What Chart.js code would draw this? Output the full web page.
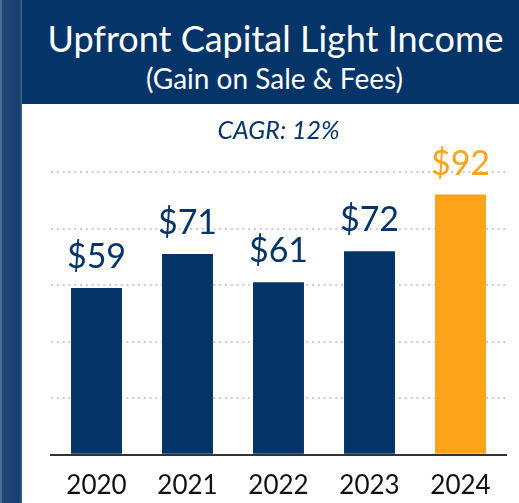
<!DOCTYPE html>
<html>
<head>
<meta charset="utf-8">
<script src="https://cdn.jsdelivr.net/npm/chart.js@4"></script>
<style>
  html, body { margin: 0; padding: 0; background: #fff; }
  #wrap { position: relative; width: 519px; height: 503px; overflow: hidden; font-family: Lato, "DejaVu Sans", sans-serif; }
  #strip {
    position: absolute; left: 0; top: 0; width: 22px; height: 503px;
    background: linear-gradient(to right, #4a6e98 0, #4a6e98 2px, #1d4576 2px, #1a3f70 20px, #3b5f8c 21px, #3b5f8c 22px);
  }
  #header {
    position: absolute; left: 22px; top: 0; width: 497px; height: 104px;
    background: #053468; color: #fff; text-align: center;
  }
  #header .t1 { position: absolute; left: 10px; right: 0; top: 16px; font-size: 36px; line-height: 44px; }
  #header .t2 { position: absolute; left: 8px; right: 0; top: 61px; font-size: 28px; line-height: 34px; }
  canvas { position: absolute; left: 0; top: 0; }
</style>
</head>
<body>
<div id="wrap">
  <div id="strip"></div>
  <div id="header">
    <div class="t1">Upfront Capital Light Income</div>
    <div class="t2">(Gain on Sale &amp; Fees)</div>
  </div>
  <canvas id="incomeChart" width="519" height="503"></canvas>
</div>
<script>
const years = ['2020', '2021', '2022', '2023', '2024'];
const income = [59, 71, 61, 72, 92];
const valueLabels = ['$59', '$71', '$61', '$72', '$92'];
const barColors = ['#053468', '#053468', '#053468', '#053468', '#fba31a'];
const cagrText = 'CAGR: 12%';

// puts the $ value above each bar
const valueLabelPlugin = {
  id: 'valueLabels',
  afterDatasetsDraw(chart) {
    const ctx = chart.ctx;
    const meta = chart.getDatasetMeta(0);
    ctx.save();
    ctx.font = '34px Lato, "DejaVu Sans", sans-serif';
    ctx.textAlign = 'center';
    ctx.textBaseline = 'alphabetic';
    meta.data.forEach((bar, i) => {
      ctx.fillStyle = barColors[i];
      ctx.fillText(valueLabels[i], bar.x, bar.y - 20);
    });
    ctx.restore();
  }
};

const ctx = document.getElementById('incomeChart').getContext('2d');
new Chart(ctx, {
  type: 'bar',
  data: {
    labels: years,
    datasets: [{
      data: income,
      backgroundColor: barColors,
      borderWidth: 0,
      categoryPercentage: 1,
      barPercentage: 0.56,
    }],
  },
  options: {
    responsive: false,
    animation: false,
    layout: {
      padding: { left: 51, right: 13, top: 116, bottom: -13 },
    },
    plugins: {
      legend: { display: false },
      tooltip: { enabled: false },
      title: {
        display: true,
        text: cagrText,
        color: '#053468',
        font: { family: 'Lato, "DejaVu Sans", sans-serif', size: 25, style: 'italic', weight: 'normal' },
        padding: { top: 0, bottom: 26 },
      },
    },
    scales: {
      x: {
        grid: { display: false, drawTicks: false },
        border: { display: true, color: '#333', width: 2 },
        ticks: {
          color: '#111',
          padding: 15,
          font: { family: 'Lato, "DejaVu Sans", sans-serif', size: 26 },
        },
      },
      y: {
        min: 0,
        max: 100,
        ticks: { display: false, stepSize: 20 },
        grid: { color: '#cccccc', lineWidth: 2, drawTicks: false },
        border: { display: false, dash: [2, 3.8] },
      },
    },
  },
  plugins: [valueLabelPlugin],
});
</script>
</body>
</html>
